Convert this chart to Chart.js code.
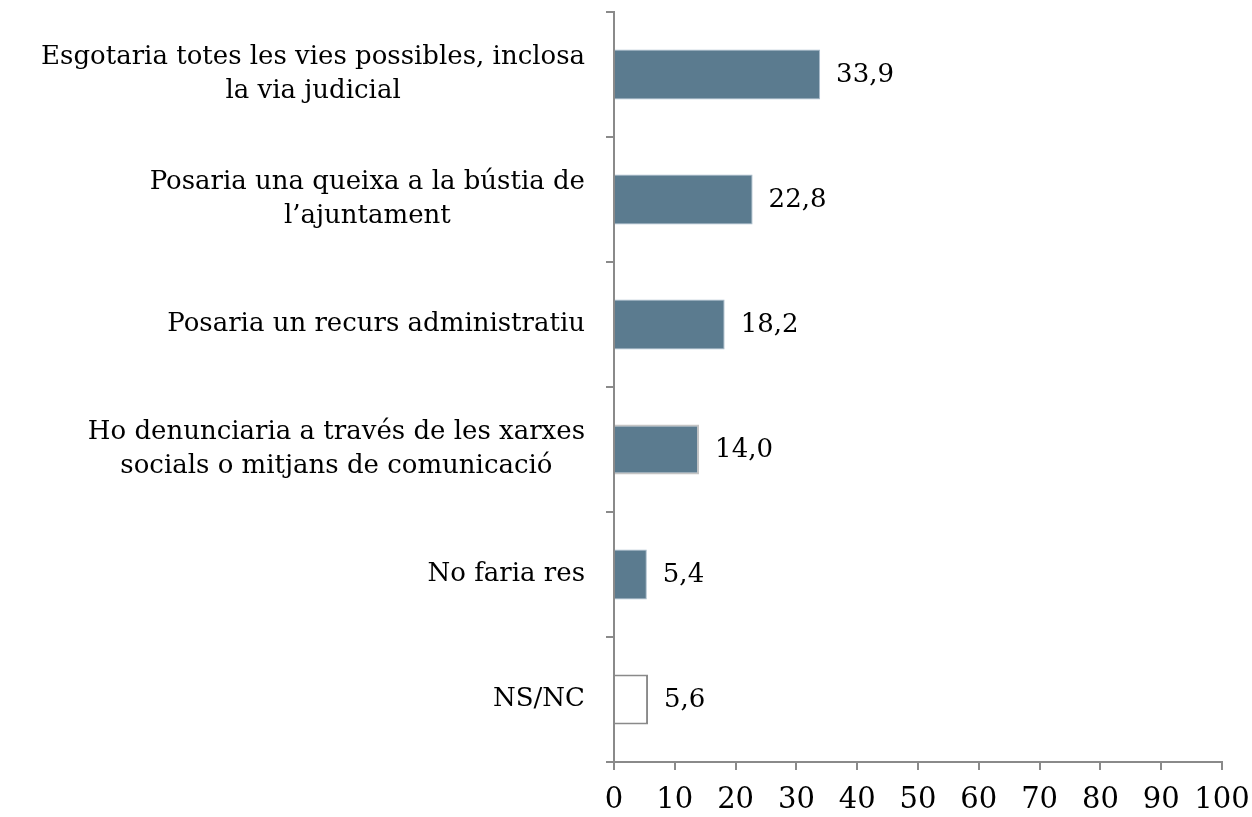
<!DOCTYPE html>
<html>
<head>
<meta charset="utf-8">
<script src="https://cdn.jsdelivr.net/npm/chart.js@4.4.0/dist/chart.umd.min.js"></script>
<style>
  html, body { margin: 0; padding: 0; background: #fff; }
  #wrap { width: 1252px; height: 817px; }
</style>
</head>
<body>
<div id="wrap"><canvas id="chart" width="1252" height="817"></canvas></div>
<script>
const categories = [
  ["Esgotaria totes les vies possibles, inclosa", "la via judicial"],
  ["Posaria una queixa a la bústia de", "l’ajuntament"],
  ["Posaria un recurs administratiu"],
  ["Ho denunciaria a través de les xarxes", "socials o mitjans de comunicació"],
  ["No faria res"],
  ["NS/NC"]
];
const values = [33.9, 22.8, 18.2, 14.0, 5.4, 5.6];
const xTicks = [0, 10, 20, 30, 40, 50, 60, 70, 80, 90, 100];

const fills = ["#5b7b8f", "#5b7b8f", "#5b7b8f", "#5b7b8f", "#5b7b8f", "#ffffff"];
const borders = ["#a9bccb", "#a9bccb", "#a9bccb", "#c4c4c4", "#a9bccb", "#8a8a8a"];
const borderW = [1, 1, 1, 2, 1, 2];

const SERIF = "'DejaVu Serif', 'Liberation Serif', serif";
const AXIS_LEFT = 614;

const labelPlugin = {
  id: "labels",
  afterDraw(chart) {
    const ctx = chart.ctx;
    const y = chart.scales.y;
    const x = chart.scales.x;
    ctx.save();
    ctx.fillStyle = "#000";
    ctx.textBaseline = "middle";
    // category labels, lines centred in a right-aligned block
    ctx.font = "26px " + SERIF;
    const right = AXIS_LEFT - 29;
    const lh = 34;
    categories.forEach((lines, i) => {
      const cy = y.getPixelForValue(i);
      const w = Math.max(...lines.map(l => ctx.measureText(l).width));
      const cx = right - w / 2;
      ctx.textAlign = "center";
      lines.forEach((l, j) => {
        ctx.fillText(l, cx, cy + (j - (lines.length - 1) / 2) * lh);
      });
    });
    // value labels
    ctx.font = "26px " + SERIF;
    ctx.textAlign = "left";
    values.forEach((v, i) => {
      const px = x.getPixelForValue(v) + 16;
      ctx.fillText(v.toFixed(1).replace(".", ","), px, y.getPixelForValue(i) + 1);
    });
    ctx.restore();
  }
};

new Chart(document.getElementById("chart").getContext("2d"), {
  type: "bar",
  data: {
    labels: categories,
    datasets: [{
      data: values,
      backgroundColor: fills,
      borderColor: borders,
      borderWidth: borderW,
      categoryPercentage: 1,
      barPercentage: 0.4
    }]
  },
  options: {
    indexAxis: "y",
    responsive: false,
    animation: false,
    layout: { padding: { top: 12, right: 30, left: 0, bottom: 0 } },
    plugins: { legend: { display: false }, tooltip: { enabled: false } },
    scales: {
      x: {
        min: 0,
        max: 100,
        afterBuildTicks(s) { s.ticks = xTicks.map(v => ({ value: v })); },
        afterFit(s) { s.height = 817 - 762; s.paddingRight = 0; },
        border: { color: "#8a8a8a", width: 2 },
        grid: { drawOnChartArea: false, tickLength: 8, color: "#8a8a8a", lineWidth: 2 },
        ticks: { color: "#000", font: { family: SERIF, size: 29 }, padding: 13, maxRotation: 0 }
      },
      y: {
        afterFit(s) { s.width = AXIS_LEFT; },
        border: { color: "#8a8a8a", width: 2 },
        grid: { offset: true, drawOnChartArea: false, tickLength: 8, color: "#8a8a8a", lineWidth: 2 },
        ticks: { display: false }
      }
    }
  },
  plugins: [labelPlugin]
});
</script>
</body>
</html>
